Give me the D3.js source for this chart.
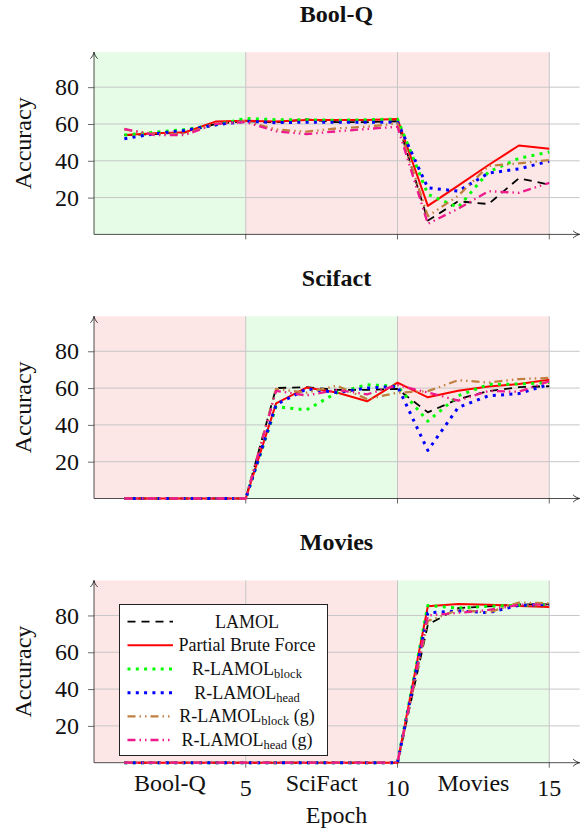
<!DOCTYPE html>
<html>
<head>
<meta charset="utf-8">
<script src="https://cdn.jsdelivr.net/npm/d3@7"></script>
<style>
  html, body { margin: 0; padding: 0; background: #fff; }
  svg { display: block; }
</style>
</head>
<body>
<div id="chart"></div>
<script>
const epochs = [1, 2, 3, 4, 5, 6, 7, 8, 9, 10, 11, 12, 13, 14, 15];
const taskNames = ["Bool-Q", "SciFact", "Movies"];
const panelTitles = ["Bool-Q", "Scifact", "Movies"];
const xTickValues = [5, 10, 15];
const yTickValues = [20, 40, 60, 80];

// Bool-Q accuracy per epoch
const boolqLamol = [54, 54.5, 55.5, 60, 61.5, 61, 62.5, 61, 61, 61.5, 7.5, 18, 16.5, 30.5, 27];
const boolqPbf = [54, 55, 55.5, 61.3, 61.8, 61.3, 62.2, 62.2, 62.2, 62.7, 15.5, 26.5, 37.7, 48.3, 46.6];
const boolqBlock = [54, 55.5, 57, 59.5, 63, 62.3, 62.3, 62, 62.3, 62.7, 21.8, 14.7, 34, 41.3, 44.8];
const boolqHead = [52, 54.7, 56.5, 59.5, 61.5, 60.7, 61, 61, 61, 61, 25.3, 23.5, 33.3, 35.6, 39.8];
const boolqBlockG = [57, 54.5, 54.7, 60, 61.5, 57, 55.8, 57.6, 58.5, 60.3, 9.9, 21, 37.2, 38.6, 40.4];
const boolqHeadG = [57.3, 54, 54, 60, 61, 56, 54.5, 56, 57.3, 58.5, 5.8, 14, 23.5, 22.6, 28];

// SciFact accuracy per epoch
const scifactLamol = [0, 0, 0, 0, 0, 60, 60.5, 59, 59, 59.5, 46.8, 54, 58.4, 60.5, 61];
const scifactPbf = [0, 0, 0, 0, 0, 51.7, 60.3, 57.6, 52.8, 63, 55, 58.5, 60.9, 62.2, 64.5];
const scifactBlock = [0, 0, 0, 0, 0, 49.9, 48.1, 57.5, 61.8, 61, 42, 55.8, 62, 62.2, 63];
const scifactHead = [0, 0, 0, 0, 0, 51, 59.5, 57.6, 60, 61, 26.1, 49.5, 55.8, 57, 62];
const scifactBlockG = [0, 0, 0, 0, 0, 59.5, 57.5, 61.3, 54, 57.5, 58.3, 64.3, 63, 64.9, 65.5];
const scifactHeadG = [0, 0, 0, 0, 0, 58.5, 56, 59, 56.6, 61.6, 57.6, 53.2, 58.4, 58, 63.7];

// Movies accuracy per epoch
const moviesLamol = [0, 0, 0, 0, 0, 0, 0, 0, 0, 0, 75, 84, 85, 86, 86];
const moviesPbf = [0, 0, 0, 0, 0, 0, 0, 0, 0, 0, 85, 86.2, 85.8, 85.2, 84.6];
const moviesBlock = [0, 0, 0, 0, 0, 0, 0, 0, 0, 0, 85.4, 84, 85, 85.5, 86];
const moviesHead = [0, 0, 0, 0, 0, 0, 0, 0, 0, 0, 81.4, 82.5, 81.5, 85.5, 86];
const moviesBlockG = [0, 0, 0, 0, 0, 0, 0, 0, 0, 0, 77, 83, 81.6, 87, 86.6];
const moviesHeadG = [0, 0, 0, 0, 0, 0, 0, 0, 0, 0, 80, 81.4, 83, 85.8, 86];

const panelValues = [
  [boolqLamol, boolqPbf, boolqBlock, boolqHead, boolqBlockG, boolqHeadG],
  [scifactLamol, scifactPbf, scifactBlock, scifactHead, scifactBlockG, scifactHeadG],
  [moviesLamol, moviesPbf, moviesBlock, moviesHead, moviesBlockG, moviesHeadG],
];

const seriesStyles = [
  { label: "LAMOL", sub: "", tail: "", color: "#000000", dash: "8 6", width: 1.8 },
  { label: "Partial Brute Force", sub: "", tail: "", color: "#ff0000", dash: null, width: 2 },
  { label: "R-LAMOL", sub: "block", tail: "", color: "#00ff00", dash: "3 5.3", width: 3 },
  { label: "R-LAMOL", sub: "head", tail: "", color: "#0000ff", dash: "3 5.3", width: 3 },
  { label: "R-LAMOL", sub: "block", tail: " (g)", color: "#c08040", dash: "8 4 1.5 4 1.5 4", width: 2.3 },
  { label: "R-LAMOL", sub: "head", tail: " (g)", color: "#ee1a8c", dash: "8 4 1.5 4 1.5 4", width: 2.3 },
];

const serifFont = "'Liberation Serif', 'Times New Roman', Times, serif";
const width = 584;
const height = 830;
const panelBase = [234.4, 498.5, 762.7];
const plotHeight = 182.2;
const yMax = 99;
const greenFill = "#e6fce6";
const pinkFill = "#fde6e6";
const gridColor = "#c6c6c6";

const x = d3.scaleLinear().domain([0, 16]).range([94, 579.6]);

const svg = d3
  .select("#chart")
  .append("svg")
  .attr("width", width)
  .attr("height", height)
  .attr("viewBox", `0 0 ${width} ${height}`)
  .attr("font-family", serifFont)
  .style("font-family", serifFont);

function arrowHead(g, tx, ty, angle) {
  g.append("path")
    .attr("d", "M-6.5,-3.6 C-4.5,-1.6 -1.8,-0.4 0,0 C-1.8,0.4 -4.5,1.6 -6.5,3.6")
    .attr("transform", `translate(${tx},${ty}) rotate(${angle})`)
    .attr("fill", "none")
    .attr("stroke", "#222")
    .attr("stroke-width", 0.9);
}

panelValues.forEach((values, pi) => {
  const base = panelBase[pi];
  const y = d3.scaleLinear().domain([0, yMax]).range([base, base - plotHeight]);
  const g = svg.append("g");

  // task regions: the task trained in this panel is green
  g.selectAll(".region")
    .data(taskNames)
    .join("rect")
    .attr("x", (d, i) => x(i * 5))
    .attr("y", y(yMax))
    .attr("width", (d, i) => x(i * 5 + 5) - x(i * 5))
    .attr("height", y(0) - y(yMax))
    .attr("fill", (d, i) => (i === pi ? greenFill : pinkFill));

  // grid
  g.append("g")
    .selectAll("line")
    .data(yTickValues)
    .join("line")
    .attr("x1", x(0))
    .attr("x2", x(16))
    .attr("y1", (d) => y(d))
    .attr("y2", (d) => y(d))
    .attr("stroke", gridColor)
    .attr("stroke-width", 1);

  g.append("g")
    .selectAll("line")
    .data(xTickValues)
    .join("line")
    .attr("x1", (d) => x(d))
    .attr("x2", (d) => x(d))
    .attr("y1", y(0))
    .attr("y2", y(yMax))
    .attr("stroke", gridColor)
    .attr("stroke-width", 1);

  // y axis ticks + labels
  g.append("g")
    .attr("transform", `translate(${x(0)},0)`)
    .call(d3.axisLeft(y).tickValues(yTickValues).tickSize(6).tickPadding(9))
    .attr("font-family", serifFont)
    .attr("font-size", 24)
    .call((axis) => axis.select(".domain").remove())
    .call((axis) => axis.selectAll("line").attr("stroke", "#444").attr("stroke-width", 0.8))
    .call((axis) => axis.selectAll("text").attr("fill", "#111"));

  // x ticks
  g.append("g")
    .selectAll("line")
    .data(xTickValues)
    .join("line")
    .attr("x1", (d) => x(d))
    .attr("x2", (d) => x(d))
    .attr("y1", y(0))
    .attr("y2", y(0) + 5)
    .attr("stroke", "#444")
    .attr("stroke-width", 0.8);

  // axis lines with arrows
  g.append("line")
    .attr("x1", x(0)).attr("x2", x(16))
    .attr("y1", y(0)).attr("y2", y(0))
    .attr("stroke", "#222").attr("stroke-width", 0.8);
  arrowHead(g, x(16), y(0), 0);
  g.append("line")
    .attr("x1", x(0)).attr("x2", x(0))
    .attr("y1", y(0)).attr("y2", y(yMax))
    .attr("stroke", "#222").attr("stroke-width", 0.8);
  arrowHead(g, x(0), y(yMax), -90);

  // series lines
  const line = d3
    .line()
    .x((d, i) => x(epochs[i]))
    .y((d) => y(d));

  g.selectAll(".series")
    .data(values)
    .join("path")
    .attr("class", "series")
    .attr("d", (d) => line(d))
    .attr("fill", "none")
    .attr("stroke", (d, i) => seriesStyles[i].color)
    .attr("stroke-width", (d, i) => seriesStyles[i].width)
    .attr("stroke-dasharray", (d, i) => seriesStyles[i].dash)
    .attr("stroke-linejoin", "round");

  // title and y label
  svg.append("text")
    .attr("x", 336.5)
    .attr("y", base - 212.5)
    .attr("text-anchor", "middle")
    .attr("font-size", 24)
    .attr("font-weight", "bold")
    .attr("fill", "#111")
    .text(panelTitles[pi]);

  svg.append("text")
    .attr("transform", `translate(31,${base - plotHeight / 2}) rotate(-90)`)
    .attr("text-anchor", "middle")
    .attr("font-size", 24)
    .attr("fill", "#111")
    .text("Accuracy");
});

// x labels under the last panel
const lastBase = panelBase[2];
svg.append("g")
  .selectAll("text")
  .data(taskNames)
  .join("text")
  .attr("x", (d, i) => x(i * 5 + 2.5))
  .attr("y", lastBase + 28)
  .attr("text-anchor", "middle")
  .attr("font-size", 24)
  .attr("fill", "#111")
  .text((d) => d);

svg.append("g")
  .selectAll("text")
  .data(xTickValues)
  .join("text")
  .attr("x", (d) => x(d))
  .attr("y", lastBase + 33)
  .attr("text-anchor", "middle")
  .attr("font-size", 24)
  .attr("fill", "#111")
  .text((d) => d);

svg.append("text")
  .attr("x", 336.5)
  .attr("y", lastBase + 60)
  .attr("text-anchor", "middle")
  .attr("font-size", 24)
  .attr("fill", "#111")
  .text("Epoch");

// legend
const legend = svg.append("g").attr("transform", "translate(119.5,604.5)");
legend.append("rect")
  .attr("width", 208)
  .attr("height", 151)
  .attr("fill", "#fff")
  .attr("stroke", "#222")
  .attr("stroke-width", 1);

const rows = legend
  .selectAll(".row")
  .data(seriesStyles)
  .join("g")
  .attr("transform", (d, i) => `translate(0,${17.2 + i * 23.66})`);

rows.append("line")
  .attr("x1", 8)
  .attr("x2", 53.5)
  .attr("stroke", (d) => d.color)
  .attr("stroke-width", (d) => d.width)
  .attr("stroke-dasharray", (d) => d.dash);

const labels = rows.append("text")
  .attr("x", 127.5)
  .attr("y", 6)
  .attr("text-anchor", "middle")
  .attr("font-size", 18)
  .attr("fill", "#111");

labels.append("tspan").text((d) => d.label);
labels.filter((d) => d.sub)
  .append("tspan")
  .attr("font-size", 12.5)
  .attr("dy", 3)
  .text((d) => d.sub);
labels.filter((d) => d.tail)
  .append("tspan")
  .attr("dy", -3)
  .text((d) => d.tail);
</script>
</body>
</html>
